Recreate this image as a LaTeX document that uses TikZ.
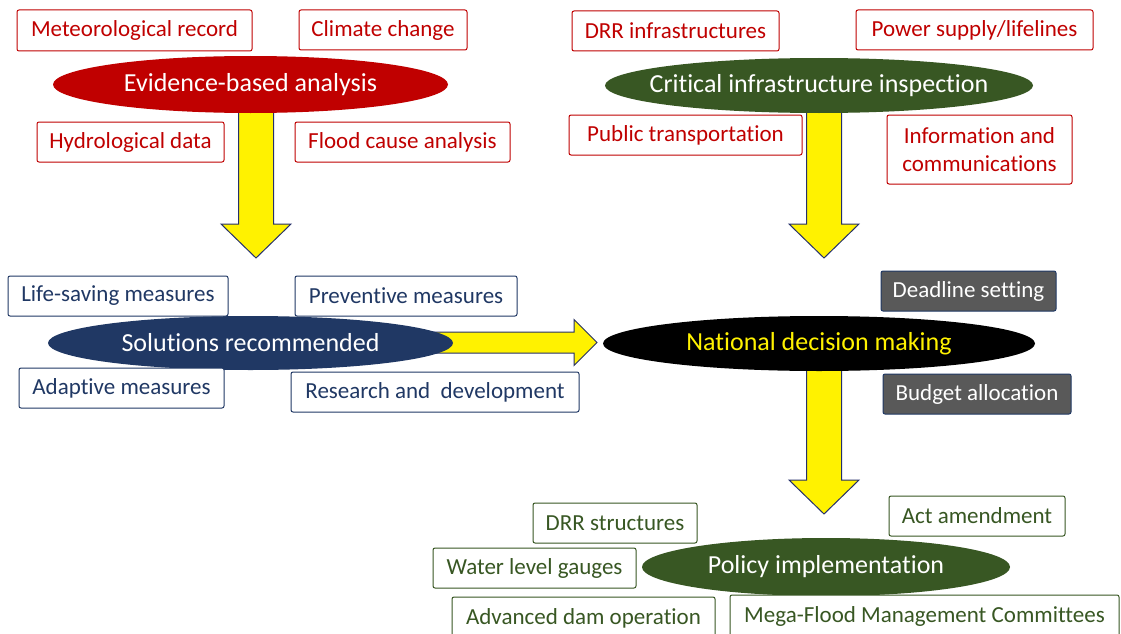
\documentclass[tikz,border=0pt]{standalone}
\usepackage{fontspec}
\setmainfont{Carlito}[Ligatures = NoCommon]
\usetikzlibrary{shapes.geometric, calc, backgrounds}

\definecolor{darkred}{HTML}{C00000}
\definecolor{navy}{HTML}{203864}
\definecolor{forest}{HTML}{385723}
\definecolor{slate}{HTML}{595959}
\definecolor{arrowline}{HTML}{25306A}

% fat block arrows: #1 = node the shaft starts in, #2 = tip
\newcommand{\downflow}[2]{%
	\draw [fatarrow] let \p1 = (#1), \p2 = (#2) in
		(\x2 - 17.5pt, \y1) -- (\x2 - 17.5pt, \y2 + 34pt) -- (\x2 - 35pt, \y2 + 34pt) -- (#2)
		-- (\x2 + 35pt, \y2 + 34pt) -- (\x2 + 17.5pt, \y2 + 34pt) -- (\x2 + 17.5pt, \y1) -- cycle;}
\newcommand{\rightflow}[2]{%
	\draw [fatarrow] let \p1 = (#1), \p2 = (#2) in
		(\x1, \y2 + 10.5pt) -- (\x2 - 23pt, \y2 + 10.5pt) -- (\x2 - 23pt, \y2 + 23pt) -- (#2)
		-- (\x2 - 23pt, \y2 - 23pt) -- (\x2 - 23pt, \y2 - 10.5pt) -- (\x1, \y2 - 10.5pt) -- cycle;}

\begin{document}
\begin{tikzpicture}[x = 1pt, y = -1pt,
		box/.style = {draw, rectangle, rounded corners = 2pt, line width = 1pt, inner sep = 0pt,
			minimum height = 40pt, font = \fontsize{23}{28}\selectfont, fill = white},
		redbox/.style = {box, draw = darkred, text = darkred},
		bluebox/.style = {box, draw = navy, text = navy},
		greenbox/.style = {box, draw = forest, text = forest},
		greybox/.style = {box, draw = navy, fill = slate, text = white},
		hub/.style = {ellipse, inner sep = 0pt, text = white, font = \fontsize{26}{30}\selectfont},
		fatarrow/.style = {fill = yellow, draw = arrowline, line width = 1pt, line join = miter}]

	\clip (0, 0) rectangle (1121, 634);

	% evidence side
	\node [hub, fill = darkred, minimum width = 395pt, minimum height = 57pt] (evid) at (250.5, 84.5) {Evidence-based analysis};
	\node [redbox, minimum width = 235pt, minimum height = 41pt] (met) at (134.5, 30.5) {Meteorological record};
	\node [redbox, minimum width = 168pt] (climate) at (383, 30) {Climate change};
	\node [redbox, minimum width = 187pt] (hydro) at (130.5, 142) {Hydrological data};
	\node [redbox, minimum width = 215pt] (cause) at (402.5, 142) {Flood cause analysis};

	% infrastructure side
	\node [hub, fill = forest, inner xsep = -20pt, minimum width = 428pt, minimum height = 55pt] (crit) at (819, 85.5) {Critical infrastructure inspection};
	\node [redbox, minimum width = 207pt] (drrinf) at (675.5, 31) {DRR infrastructures};
	\node [redbox, minimum width = 237pt] (power) at (974.5, 30) {Power supply/lifelines};
	\node [redbox, minimum width = 233pt] (transport) at (685.5, 135) {Public transportation};
	\node [redbox, minimum width = 185pt, minimum height = 69pt, align = center] (infocomm) at (979.5, 149.5) {Information and\\communications};

	% solutions
	\node [hub, fill = navy, minimum width = 405pt, minimum height = 54pt] (solut) at (250.5, 343) {Solutions recommended};
	\node [bluebox, minimum width = 220pt] (lifesave) at (118, 296) {Life-saving measures};
	\node [bluebox, minimum width = 222pt] (prevent) at (406, 296) {Preventive measures};
	\node [bluebox, minimum width = 205pt] (adapt) at (121.5, 388) {Adaptive measures};
	\node [bluebox, minimum width = 288pt] (research) at (435, 392) {Research and~~development};

	% decision
	\node [hub, fill = black, text = yellow, minimum width = 432pt, minimum height = 55pt] (natl) at (819, 343.5) {National decision making};
	\node [greybox, minimum width = 175pt] (deadline) at (968.5, 291) {Deadline setting};
	\node [greybox, minimum width = 188pt] (budget) at (977, 394) {Budget allocation};

	% implementation
	\node [hub, fill = forest, minimum width = 368pt, minimum height = 58pt] (policy) at (826, 567) {Policy implementation};
	\node [greenbox, minimum width = 164pt] (drrstruct) at (615, 523) {DRR structures};
	\node [greenbox, minimum width = 176pt] (act) at (977, 516) {Act amendment};
	\node [greenbox, minimum width = 203pt] (gauges) at (534.5, 568) {Water level gauges};
	\node [greenbox, minimum width = 263pt, minimum height = 42pt] (dam) at (583.5, 618) {Advanced dam operation};
	\node [greenbox, minimum width = 389pt, minimum height = 42pt] (mega) at (924.5, 616) {Mega-Flood Management Committees};

	\coordinate (t1) at (256, 258);
	\coordinate (t2) at (824, 258);
	\coordinate (t3) at (597, 342.5);
	\coordinate (t4) at (824, 514);

	\begin{scope}[on background layer]
		\fill [white] (0, 0) rectangle (1121, 634);
		\downflow{evid.center}{t1}
		\downflow{crit.center}{t2}
		\rightflow{solut.center}{t3}
		\downflow{natl.center}{t4}
	\end{scope}
\end{tikzpicture}
\end{document}
